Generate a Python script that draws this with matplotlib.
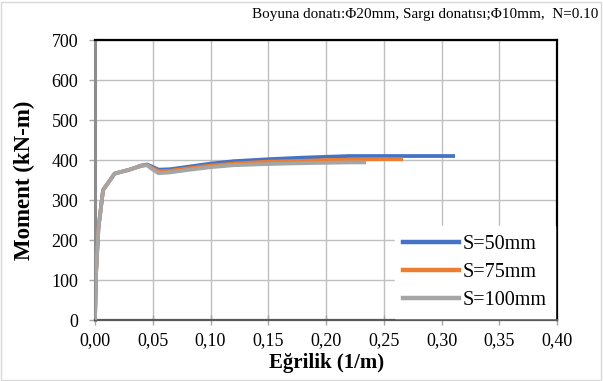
import matplotlib
matplotlib.use("Agg")
import matplotlib.pyplot as plt
from matplotlib.patches import Rectangle

plt.rcParams["font.family"] = ["Liberation Serif", "DejaVu Serif"]

# curvature (1/m) and moment (kN-m) for each stirrup spacing
egrilik_50 = [0, 0.001, 0.003, 0.007, 0.017, 0.022, 0.030, 0.040, 0.045, 0.049,
              0.055, 0.065, 0.080, 0.100, 0.120, 0.150, 0.180, 0.200, 0.220,
              0.250, 0.280, 0.310]
moment_50 = [0, 120, 230, 325, 366, 370, 376, 386, 389, 384,
             376, 377, 383, 391, 397, 402, 406, 408, 410,
             410, 410, 410]

egrilik_75 = [0, 0.001, 0.003, 0.007, 0.017, 0.022, 0.030, 0.040, 0.045, 0.049,
              0.055, 0.065, 0.080, 0.100, 0.120, 0.150, 0.180, 0.200, 0.220,
              0.240, 0.265]
moment_75 = [0, 120, 230, 325, 366, 370, 376, 386, 388, 381,
             372, 373, 379, 386, 391, 396, 398, 400, 401,
             402, 402]

egrilik_100 = [0, 0.001, 0.003, 0.007, 0.017, 0.022, 0.030, 0.040, 0.045, 0.049,
               0.055, 0.065, 0.080, 0.100, 0.120, 0.150, 0.180, 0.200, 0.220,
               0.233]
moment_100 = [0, 120, 230, 325, 366, 370, 376, 385, 387, 378,
              367, 369, 375, 382, 387, 390, 392, 393, 394,
              394]

labels = ["S=50mm", "S=75mm", "S=100mm"]
colors = ["#4472C4", "#ED7D31", "#A5A5A5"]

fig = plt.figure(figsize=(6.03, 3.81), dpi=100)
ax = fig.add_axes([0.1575, 0.160, 0.7665, 0.735])

ax.plot(egrilik_50, moment_50, color=colors[0], lw=2.7, label=labels[0], zorder=3)
ax.plot(egrilik_75, moment_75, color=colors[1], lw=2.7, label=labels[1], zorder=4)
ax.plot(egrilik_100, moment_100, color=colors[2], lw=2.7, label=labels[2], zorder=5)

ax.set_xlim(0, 0.40)
ax.set_ylim(0, 700)
ax.set_xticks([i * 0.05 for i in range(9)])
ax.set_xticklabels([f"{i * 0.05:.2f}".replace(".", ",") for i in range(9)])
ax.set_yticks(range(0, 701, 100))
ax.grid(True, color="#BFBFBF", lw=1.0)
ax.set_axisbelow(True)

ax.tick_params(axis="x", direction="inout", length=7, width=1, color="#A6A6A6",
               labelsize=13, pad=5)
ax.tick_params(axis="y", direction="out", length=4, width=1, color="#A6A6A6",
               labelsize=13, pad=8)

ax.spines["top"].set_color("black")
ax.spines["top"].set_linewidth(1.6)
ax.spines["right"].set_color("black")
ax.spines["right"].set_linewidth(1.6)
ax.spines["bottom"].set_color("#595959")
ax.spines["bottom"].set_linewidth(1.6)
ax.spines["left"].set_color("#8C8C8C")
ax.spines["left"].set_linewidth(2.2)

ax.set_xlabel("Eğrilik (1/m)", fontsize=15, fontweight="bold", labelpad=3)
ax.set_ylabel("Moment (kN-m)", fontsize=16.5, fontweight="bold", labelpad=12)

leg = ax.legend(loc="lower right", bbox_to_anchor=(1.0, 0.0), fontsize=14.5,
                frameon=True, fancybox=False, edgecolor="white",
                facecolor="white", framealpha=1, handlelength=2.8,
                handletextpad=0.2, labelspacing=0.45, borderpad=0.4,
                borderaxespad=0.1)
for line in leg.get_lines():
    line.set_linewidth(3.2)

fig.text(0.992, 0.961, "Boyuna donatı:Φ20mm, Sargı donatısı;Φ10mm,  N=0.10",
         ha="right", va="center", fontsize=10.9)

fig.patches.append(Rectangle((0.002, 0.003), 0.995, 0.993, transform=fig.transFigure,
                             fill=False, edgecolor="#D9D9D9", lw=1))

fig.savefig("out.png", dpi=100)
